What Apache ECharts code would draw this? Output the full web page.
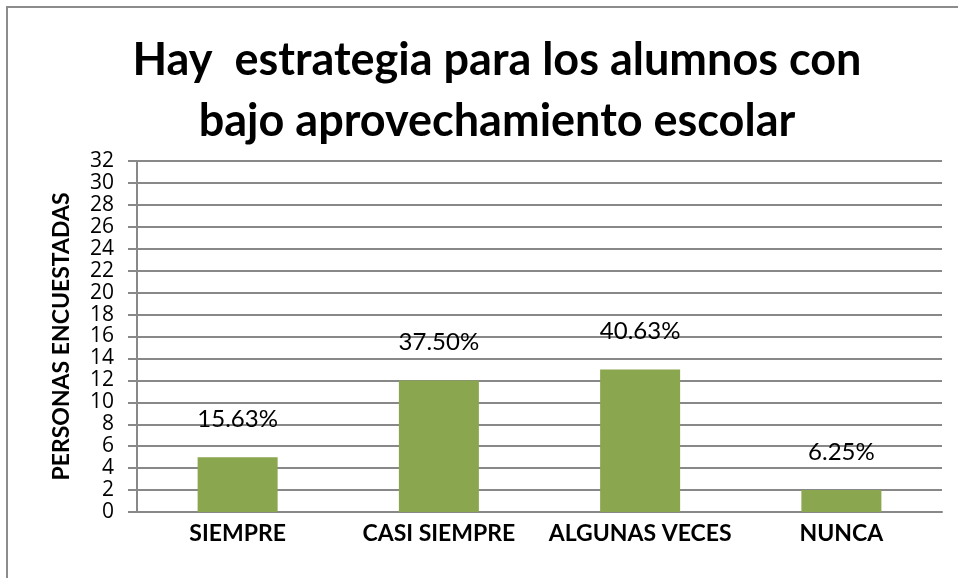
<!DOCTYPE html>
<html>
<head>
<meta charset="utf-8">
<script src="https://cdn.jsdelivr.net/npm/echarts@6/dist/echarts.min.js"></script>
<style>
  html, body { margin: 0; padding: 0; background: #fff; }
  #wrap { position: relative; width: 958px; height: 578px; overflow: hidden; }
  #frame { position: absolute; left: 6px; top: 6px; width: 1000px; height: 600px; border: 2px solid #8c8c8c; box-sizing: border-box; }
  #chart { position: absolute; left: 0; top: 0; width: 958px; height: 578px; }
</style>
</head>
<body>
<div id="wrap">
  <div id="frame"></div>
  <div id="chart"></div>
</div>
<script>
const categories = ['SIEMPRE', 'CASI SIEMPRE', 'ALGUNAS VECES', 'NUNCA']
const personas = [5, 12, 13, 2]
const porcentajes = ['15.63%', '37.50%', '40.63%', '6.25%']

const myChart = echarts.init(document.getElementById('chart'))
const option = {
  animation: false,
  textStyle: { fontFamily: 'Lato' },
  title: {
    text: 'Hay  estrategia para los alumnos con\nbajo aprovechamiento escolar',
    left: 492,
    top: 25,
    textAlign: 'center',
    textStyle: {
      fontFamily: 'Lato',
      fontWeight: 'bold',
      fontSize: 45,
      lineHeight: 61,
      color: '#000',
    },
  },
  grid: {
    left: 137,
    right: 16,
    top: 161,
    bottom: 66,
  },
  xAxis: {
    type: 'category',
    data: categories,
    axisTick: { show: false },
    axisLine: { lineStyle: { color: '#888', width: 2 } },
    axisLabel: {
      interval: 0,
      color: '#000',
      fontWeight: 'bold',
      fontSize: 23,
      margin: 10,
    },
  },
  yAxis: {
    type: 'value',
    min: 0,
    max: 32,
    interval: 2,
    name: 'PERSONAS ENCUESTADAS',
    nameLocation: 'middle',
    nameGap: 64,
    nameRotate: 90,
    nameTextStyle: {
      color: '#000',
      fontWeight: 'bold',
      fontSize: 23,
    },
    axisLine: { show: true, lineStyle: { color: '#888', width: 2 } },
    axisTick: { show: true, length: 9, lineStyle: { color: '#888', width: 2 } },
    axisLabel: {
      color: '#000',
      fontFamily: 'Open Sans',
      fontSize: 21,
      lineHeight: 21,
      margin: 23,
    },
    splitLine: { lineStyle: { color: '#888', width: 2 } },
  },
  series: [
    {
      name: 'Personas',
      type: 'bar',
      data: personas,
      barWidth: 80,
      itemStyle: { color: '#8aa64e' },
      label: {
        show: true,
        position: 'top',
        distance: 26,
        color: '#000',
        fontSize: 24,
        formatter: (p) => porcentajes[p.dataIndex],
      },
    },
  ],
}
myChart.setOption(option)
</script>
</body>
</html>
